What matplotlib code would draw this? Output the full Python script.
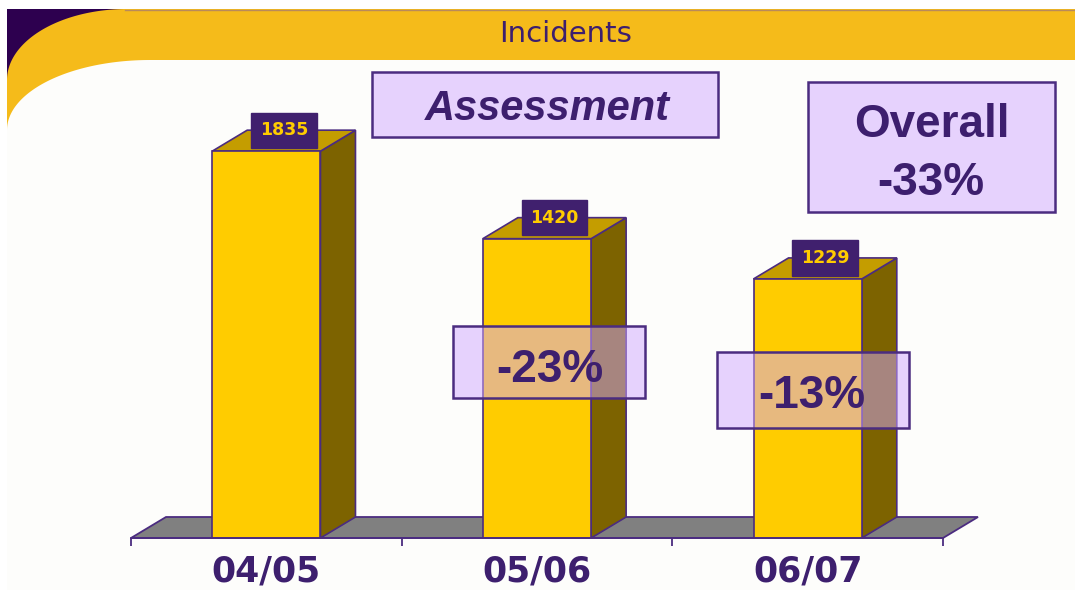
import matplotlib
matplotlib.use("Agg")
import matplotlib.pyplot as plt
from matplotlib.patches import Polygon, Rectangle
import numpy as np

# data
seasons = ["04/05", "05/06", "06/07"]
incidents = [1835, 1420, 1229]
changes = ["-23%", "-13%"]
overall = "-33%"
title = "Incidents"

# colours
PURPLE_DARK = "#2d004f"
BAND = "#f5bb1a"
TXT = "#3d1f6e"
EDGE = "#4b2c80"
FRONT = "#ffcc00"
TOP = "#c49d00"
SIDE = "#7d6300"
FLOOR = "#808080"
BOXFILL = (0.82, 0.66, 1.0, 0.5)

W, H = 1075, 590


def main():
    fig = plt.figure(figsize=(W / 100, H / 100), dpi=100)
    fig.patch.set_facecolor("white")

    # background slide decoration (pixel coordinates)
    bg = fig.add_axes([0, 0, 1, 1])
    bg.set_xlim(0, W)
    bg.set_ylim(H, 0)
    bg.axis("off")
    bg.add_patch(Rectangle((7, 9), 150, 100, color=PURPLE_DARK, lw=0))
    t = np.linspace(np.pi, 1.5 * np.pi, 60)
    outer = np.column_stack([127 + 120 * np.cos(t), 80 + 71 * np.sin(t)])
    outer = np.vstack([outer, [[W, 9], [W, H], [7, H]]])
    bg.add_patch(Polygon(outer, closed=True, color=BAND, lw=0))
    inner = np.column_stack([150 + 143 * np.cos(t), 130 + 70 * np.sin(t)])
    inner = np.vstack([inner, [[W, 60], [W, H], [7, H]]])
    bg.add_patch(Polygon(inner, closed=True, color="#fdfdfb", lw=0))
    bg.plot([125, W], [9.5, 9.5], color="#b98a5a", lw=1)
    bg.text(566, 42, title, ha="center", va="baseline", fontsize=21,
            color=TXT, family="DejaVu Sans")

    # chart axes
    ax = fig.add_axes([131 / W, (H - 538) / H, 812 / W, 527 / H])
    ax.patch.set_alpha(0)
    n = len(seasons)
    ax.set_xlim(-0.5, n - 0.5)
    ax.set_ylim(0, 2500)
    dx = 35 / 812 * n
    dy = 21 / 527 * 2500
    bw = 0.4

    floor = [(-0.5, 0), (n - 0.5, 0), (n - 0.5 + dx, dy), (-0.5 + dx, dy)]
    ax.add_patch(Polygon(floor, closed=True, fc=FLOOR, ec=EDGE, lw=1.3, zorder=1,
                         clip_on=False))

    for i, v in enumerate(incidents):
        l, r = i - bw / 2, i + bw / 2
        front = [(l, 0), (r, 0), (r, v), (l, v)]
        top = [(l, v), (r, v), (r + dx, v + dy), (l + dx, v + dy)]
        side = [(r, 0), (r + dx, dy), (r + dx, v + dy), (r, v)]
        ax.add_patch(Polygon(side, closed=True, fc=SIDE, ec=EDGE, lw=1.2, zorder=2,
                             clip_on=False))
        ax.add_patch(Polygon(top, closed=True, fc=TOP, ec=EDGE, lw=1.2, zorder=2,
                             clip_on=False))
        ax.add_patch(Polygon(front, closed=True, fc=FRONT, ec=EDGE, lw=1.2, zorder=3,
                             clip_on=False))
        ax.text(i + dx / 2, v + dy, str(v), ha="center", va="center",
                fontsize=12.5, fontweight="bold", color=FRONT, family="DejaVu Sans",
                zorder=5,
                bbox=dict(boxstyle="square,pad=0.5", fc="#40206e", ec="#40206e"))

    for s in ["top", "right", "left"]:
        ax.spines[s].set_visible(False)
    ax.spines["bottom"].set_color(EDGE)
    ax.spines["bottom"].set_linewidth(1.3)
    ax.spines["bottom"].set_zorder(4)
    ax.set_yticks([])
    ax.set_xticks(range(n))
    ax.set_xticklabels(seasons, fontsize=25, fontweight="bold", color=TXT,
                       family="DejaVu Sans")
    ax.set_xticks(np.arange(-0.5, n), minor=True)
    ax.tick_params(axis="x", which="major", length=0, pad=12)
    ax.tick_params(axis="x", which="minor", length=6, width=1.3, color=EDGE,
                   direction="out")

    # overlay boxes (pixel coordinates)
    ov = fig.add_axes([0, 0, 1, 1])
    ov.set_xlim(0, W)
    ov.set_ylim(H, 0)
    ov.axis("off")
    ov.patch.set_alpha(0)

    def box(x0, y0, x1, y1):
        ov.add_patch(Rectangle((x0, y0), x1 - x0, y1 - y0, fc=BOXFILL,
                               ec=EDGE, lw=1.8))

    box(372, 72, 718, 137)
    ov.text(547, 120, "Assessment", ha="center", va="baseline", fontsize=30,
            fontweight="bold", style="italic", color=TXT, family="Liberation Sans")

    box(808, 82, 1055, 212)
    ov.text(932, 137, "Overall", ha="center", va="baseline", fontsize=33,
            fontweight="bold", color=TXT, family="Liberation Sans")
    ov.text(931, 195, overall, ha="center", va="baseline", fontsize=33,
            fontweight="bold", color=TXT, family="Liberation Sans")

    box(453, 326, 645, 398)
    ov.text(550, 382, changes[0], ha="center", va="baseline", fontsize=33,
            fontweight="bold", color=TXT, family="Liberation Sans")
    box(717, 352, 909, 428)
    ov.text(812, 408, changes[1], ha="center", va="baseline", fontsize=33,
            fontweight="bold", color=TXT, family="Liberation Sans")

    fig.savefig("out.png", dpi=100)


if __name__ == "__main__":
    main()
